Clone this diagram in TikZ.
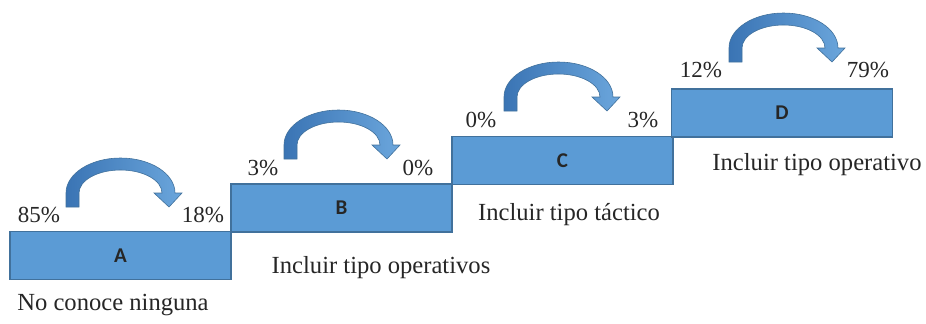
\documentclass[tikz,border=0pt]{standalone}
\usepackage{fontspec}
\setmainfont{Liberation Serif}
\newfontfamily\lettfont{Carlito}
\definecolor{stepblue}{HTML}{5B9BD5}
\definecolor{stepedge}{HTML}{41719C}
\definecolor{arrdark}{HTML}{3A74B4}
\definecolor{arrlight}{HTML}{6BA6DC}
\definecolor{txt}{HTML}{262626}

\tikzset{
  bendarrow/.pic={
    \path[left color=arrdark,right color=arrlight,draw=stepedge,line width=0.3pt]
      (0,0) -- (0,14) arc[start angle=180,end angle=0,x radius=54.5,y radius=35]
      -- (116,14) -- (103,0) -- (88,14) -- (96,14)
      arc[start angle=0,end angle=180,x radius=41.5,y radius=23] -- (13,0) -- cycle;
  }
}

\begin{document}
\begin{tikzpicture}[x=0.5pt,y=0.5pt]
%  \draw [step=10,color=gray] (0,0) grid (926,323);
  \tikzstyle{stepbox}=[draw=stepedge,fill=stepblue,line width=0.8pt,minimum width=110.5pt,minimum height=24pt,inner sep=0pt,text=txt,font=\lettfont\bfseries\fontsize{10.5}{12}\selectfont];
  \tikzstyle{pct}=[inner sep=0pt,text=txt,font=\fontsize{11.5}{13}\selectfont];
  \tikzstyle{caption}=[inner sep=0pt,text=txt,font=\fontsize{12.3}{14}\selectfont];
  \useasboundingbox (0,0) rectangle (926,323);

  \path (120.5,67.5) node[stepbox] (boxA) {A};
  \path (341.5,115) node[stepbox] (boxB) {B};
  \path (562.5,162.5) node[stepbox] (boxC) {C};
  \path (782,210) node[stepbox] (boxD) {D};

  \path (66,116) pic {bendarrow};
  \path (284,164) pic {bendarrow};
  \path (504,212) pic {bendarrow};
  \path (729,261) pic {bendarrow};

  \path (39,108) node[pct] (pA1) {85\%};
  \path (203,108) node[pct] (pA2) {18\%};
  \path (263,155) node[pct] (pB1) {3\%};
  \path (418,155) node[pct] (pB2) {0\%};
  \path (481,203) node[pct] (pC1) {0\%};
  \path (643,203) node[pct] (pC2) {3\%};
  \path (701,253) node[pct] (pD1) {12\%};
  \path (868,253) node[pct] (pD2) {79\%};

  \path (113,18) node[caption] (capA) {No conoce ninguna};
  \path (381,55) node[caption] (capB) {Incluir tipo operativos};
  \path (569,108) node[caption] (capC) {Incluir tipo táctico};
  \path (817,158) node[caption] (capD) {Incluir tipo operativo};
\end{tikzpicture}
\end{document}
